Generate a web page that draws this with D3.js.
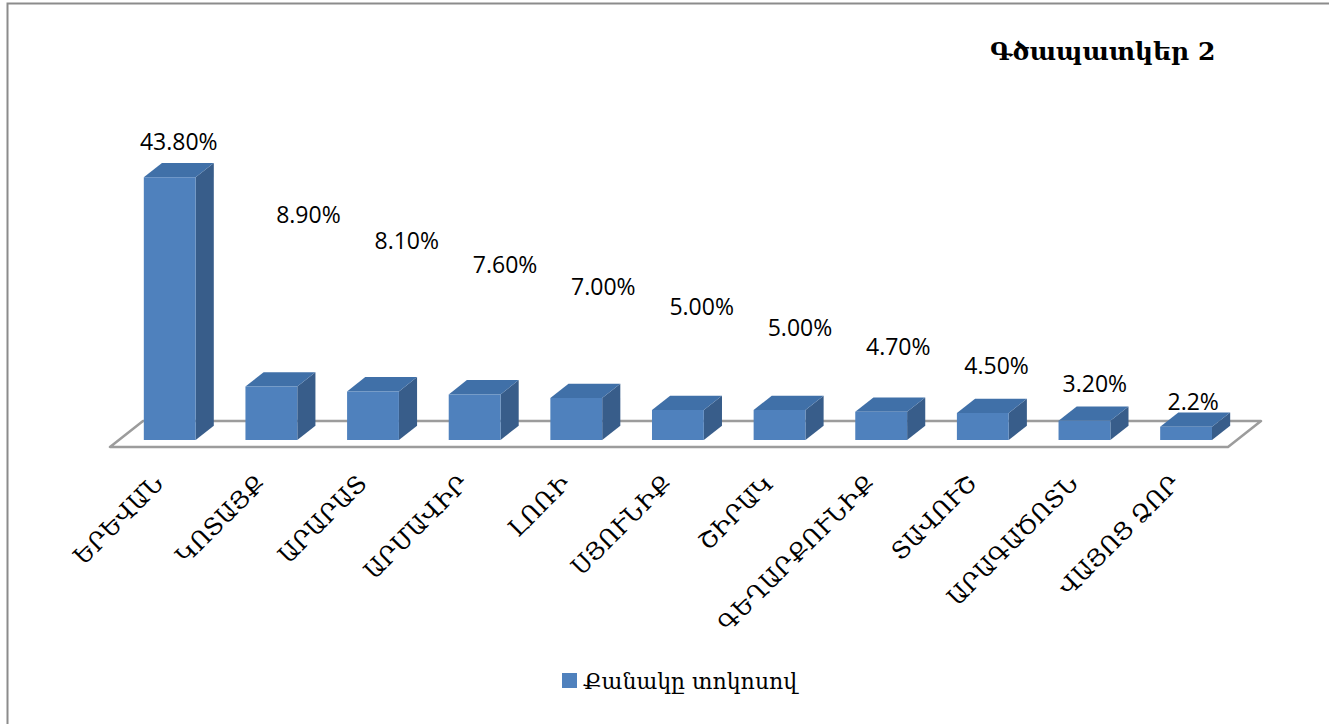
<!DOCTYPE html>
<html>
<head>
<meta charset="utf-8">
<script src="https://cdn.jsdelivr.net/npm/d3@7"></script>
<style>
  html, body { margin: 0; padding: 0; background: #fff; }
  svg { display: block; }
</style>
</head>
<body>
<svg id="chart"></svg>
<script>
'use strict';

// Chart data
const categories = ['ԵՐԵՎԱՆ', 'ԿՈՏԱՅՔ', 'ԱՐԱՐԱՏ', 'ԱՐՄԱՎԻՐ', 'ԼՈՌԻ', 'ՍՅՈՒՆԻՔ',
                    'ՇԻՐԱԿ', 'ԳԵՂԱՐՔՈՒՆԻՔ', 'ՏԱՎՈՒՇ', 'ԱՐԱԳԱԾՈՏՆ', 'ՎԱՅՈՑ ՁՈՐ'];
const values = [43.8, 8.9, 8.1, 7.6, 7.0, 5.0, 5.0, 4.7, 4.5, 3.2, 2.2];
const valueLabels = ['43.80%', '8.90%', '8.10%', '7.60%', '7.00%', '5.00%',
                     '5.00%', '4.70%', '4.50%', '3.20%', '2.2%'];
const seriesName = 'Քանակը տոկոսով';
const chartTitle = 'Գծապատկեր 2';

(function() {
    const width = 1329;
    const height = 724;
    const floor = {left: 110, right: 1228, y: 447};
    const depth = {dx: 33, dy: -26};      // floor depth vector
    const barFront = 0.27, barBack = 0.82; // bar position inside the floor depth
    const armFont = '"DejaVu Serif", serif';

    const svg = d3.select('#chart')
                  .attr('width', width)
                  .attr('height', height);

    // frame
    svg.append('rect')
       .attr('x', 7.5).attr('y', 3.5)
       .attr('width', width + 20).attr('height', height + 20)
       .attr('fill', 'none')
       .attr('stroke', '#8c8c8c')
       .attr('stroke-width', 2);

    const x = d3.scaleBand()
                .domain(categories)
                .range([floor.left, floor.right])
                .paddingInner(0.49)
                .paddingOuter(0.245);

    const y = d3.scaleLinear()
                .domain([0, 45])
                .range([floor.y, floor.y - 45 * 6.0]);

    const pt = (px, py, f) => [px + depth.dx * f, py + depth.dy * f];

    // floor
    const fl = [pt(floor.left, floor.y, 0), pt(floor.right, floor.y, 0),
                pt(floor.right, floor.y, 1), pt(floor.left, floor.y, 1)];
    svg.append('polygon')
       .attr('points', fl.map(p => p.join(',')).join(' '))
       .attr('fill', '#fff')
       .attr('stroke', '#9c9c9c')
       .attr('stroke-width', 2.5)
       .attr('stroke-linejoin', 'round');

    // bars
    const bars = svg.append('g')
                    .selectAll('g')
                    .data(categories)
                    .join('g');

    bars.each(function(c, i) {
        const g = d3.select(this);
        const x0 = x(c), x1 = x(c) + x.bandwidth();
        const yb = y(0), yt = y(values[i]);
        const a = pt(x0, yb, barFront), b = pt(x1, yb, barFront);
        const at = pt(x0, yt, barFront), bt = pt(x1, yt, barFront);
        const atb = pt(x0, yt, barBack), btb = pt(x1, yt, barBack);
        const bbb = pt(x1, yb, barBack);

        g.append('polygon')
         .attr('points', [b, bbb, btb, bt].map(p => p.join(',')).join(' '))
         .attr('fill', '#385d8a');
        g.append('polygon')
         .attr('points', [at, bt, btb, atb].map(p => p.join(',')).join(' '))
         .attr('fill', '#4070a8');
        g.append('polygon')
         .attr('points', [a, b, bt, at].map(p => p.join(',')).join(' '))
         .attr('fill', '#4f81bd');
    });

    // value labels
    const ladder = d3.scalePow().exponent(0.8).domain([1, 10]).range([215, 402]);
    const shift = d3.scaleLinear().domain([1, 10]).range([28, -2]);

    svg.append('g')
       .selectAll('text')
       .data(valueLabels)
       .join('text')
       .attr('x', (d, i) => pt(x(categories[i]) + x.bandwidth() / 2, 0, (barFront + barBack) / 2)[0] + (i === 0 ? 0 : shift(i)))
       .attr('y', (d, i) => i === 0 ? pt(0, y(values[0]), barFront)[1] - 35 : ladder(i))
       .attr('dy', '0.35em')
       .attr('text-anchor', 'middle')
       .attr('font-family', '"Open Sans", sans-serif')
       .attr('font-size', 23)
       .attr('fill', '#000')
       .text(d => d);

    // category labels
    svg.append('g')
       .selectAll('text')
       .data(categories)
       .join('text')
       .attr('transform', c => `translate(${x(c) + x.bandwidth() / 2 + 4}, 485) rotate(-45)`)
       .attr('text-anchor', 'end')
       .attr('font-family', armFont)
       .attr('font-size', 24)
       .attr('fill', '#000')
       .text(c => c);

    // title
    svg.append('text')
       .attr('x', 990)
       .attr('y', 60)
       .attr('font-family', armFont)
       .attr('font-weight', 'bold')
       .attr('font-size', 25)
       .attr('fill', '#000')
       .text(chartTitle);

    // legend
    const legend = svg.append('g').attr('transform', 'translate(562, 673)');
    legend.append('rect')
          .attr('width', 15).attr('height', 15)
          .attr('fill', '#4f81bd');
    legend.append('text')
          .attr('x', 21)
          .attr('y', 16)
          .attr('font-family', armFont)
          .attr('font-size', 22)
          .attr('fill', '#000')
          .text(seriesName);
})();
</script>
</body>
</html>
